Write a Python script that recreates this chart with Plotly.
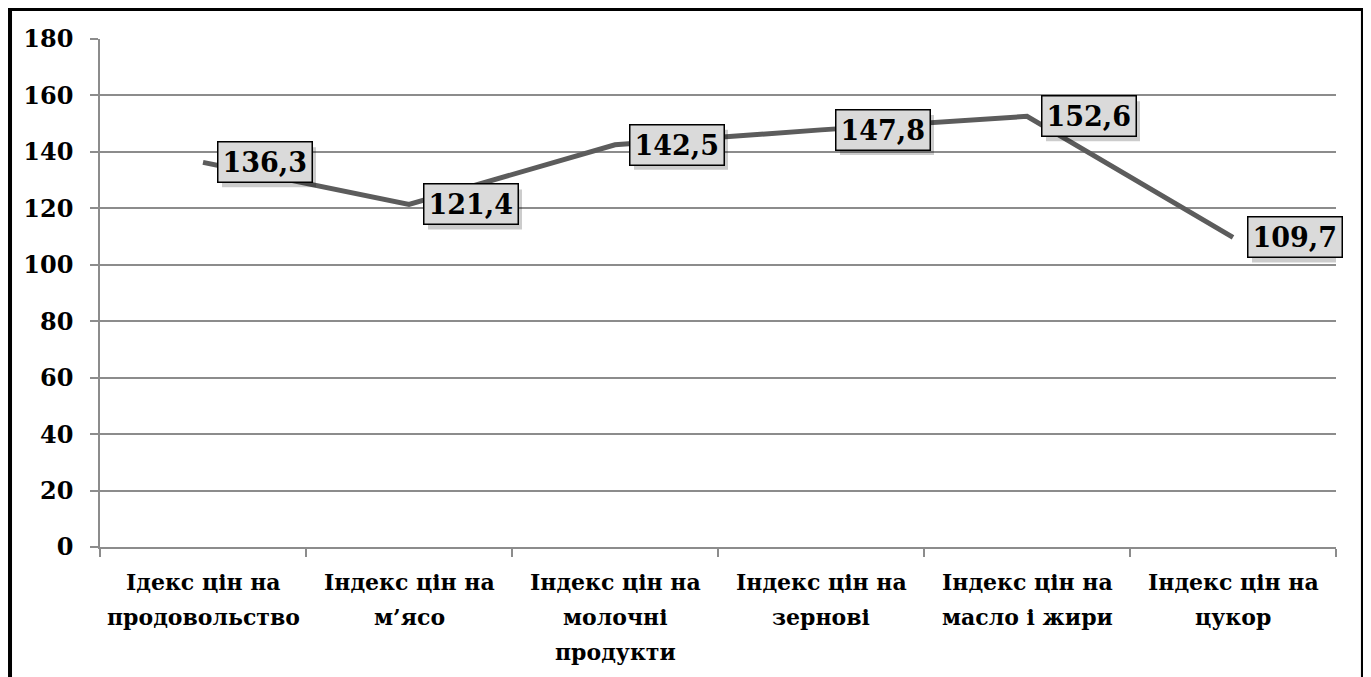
import plotly.graph_objects as go

categories = ["Ідекс цін на<br>продовольство", "Індекс цін на<br>м’ясо", "Індекс цін на<br>молочні<br>продукти",
              "Індекс цін на<br>зернові", "Індекс цін на<br>масло і жири", "Індекс цін на<br>цукор"]
values = [136.3, 121.4, 142.5, 147.8, 152.6, 109.7]
labels = ["136,3", "121,4", "142,5", "147,8", "152,6", "109,7"]
yticks = [0, 20, 40, 60, 80, 100, 120, 140, 160, 180]

FONT = "DejaVu Serif"
LINE_STEP = 35

fig = go.Figure()
fig.add_trace(go.Scatter(x=categories, y=values, mode="lines",
                         line=dict(color="#5c5c5c", width=5), hoverinfo="skip", showlegend=False))

annotations = []
shapes = []
for c, v, t in zip(categories, values, labels):
    # soft drop shadow behind the label box
    shapes.append(dict(type="rect", xref="x", yref="y", xsizemode="pixel", ysizemode="pixel",
                       xanchor=c, yanchor=v, x0=19, x1=113, y0=-25, y1=15,
                       fillcolor="rgba(0,0,0,0.2)", line=dict(width=0), layer="above"))
    annotations.append(dict(x=c, y=v, xref="x", yref="y", text="<b>" + t + "</b>", showarrow=False,
                            xshift=62, yshift=0,
                            font=dict(family=FONT, size=27, color="black"),
                            bgcolor="#dadada", borderpad=4, borderwidth=1.5, bordercolor="black"))

# category labels, one annotation per line for the wider line spacing
for c in categories:
    for i, line in enumerate(c.split("<br>")):
        annotations.append(dict(x=c, y=0, xref="x", yref="paper", text="<b>" + line + "</b>",
                                showarrow=False, yanchor="middle", yshift=-35 - i * LINE_STEP,
                                font=dict(family=FONT, size=22, color="black")))

# outer black frame (page body has an 8px margin: figure is shifted by (8, 8) in the window)
shapes.append(dict(type="rect", xref="paper", yref="paper",
                   x0=-0.0728, x1=1.0218, y0=-0.27, y1=1.059,
                   line=dict(color="black", width=4), layer="above"))

fig.update_layout(
    width=1363, height=669,
    margin=dict(l=92, r=35, t=31, b=130),
    paper_bgcolor="white", plot_bgcolor="white",
    font=dict(family=FONT, color="black"),
    annotations=annotations,
    shapes=shapes,
    xaxis=dict(range=[-0.5, 5.5], showgrid=False, showline=True, linecolor="#8c8c8c", linewidth=1.5,
               ticks="outside", tickson="boundaries", ticklen=8, tickcolor="#8c8c8c", tickwidth=1.5,
               showticklabels=False),
    yaxis=dict(range=[0, 180], tickvals=yticks, showgrid=True, gridcolor="#8c8c8c", gridwidth=1.5,
               showline=True, linecolor="#8c8c8c", linewidth=1.5, ticks="outside", ticklen=8,
               tickcolor="#8c8c8c", tickwidth=1.5, zeroline=False, ticklabelstandoff=12,
               tickfont=dict(family=FONT, size=24, color="black", weight="bold")),
)
fig.write_html("out.html")
